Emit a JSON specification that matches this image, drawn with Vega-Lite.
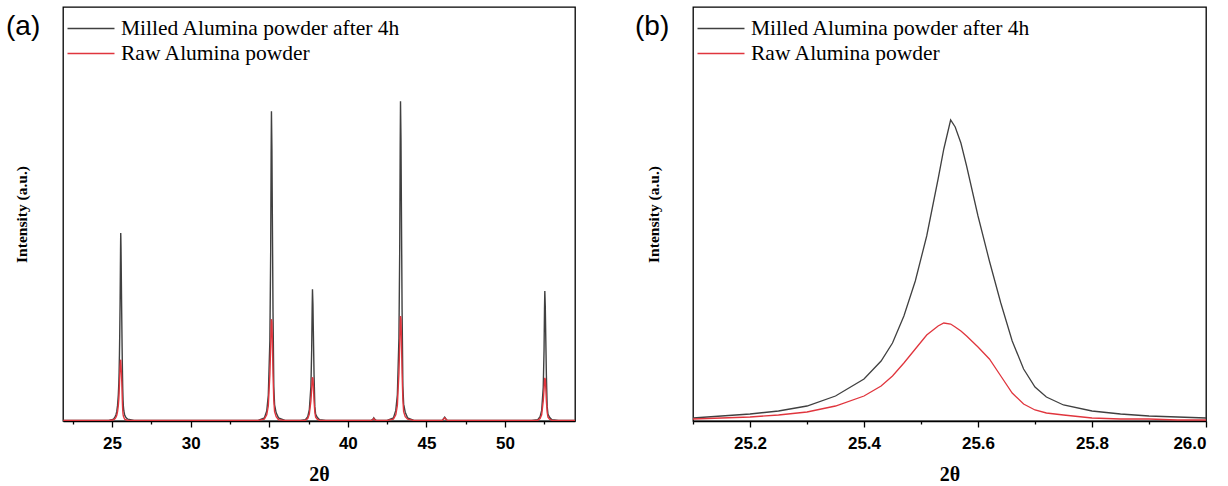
{
  "$schema": "https://vega.github.io/schema/vega-lite/v6.json",
  "padding": {"left": 5, "top": 6, "right": 5, "bottom": 0},
  "background": "white",
  "config": {
    "view": {"stroke": "black", "strokeWidth": 1.3},
    "axis": {
      "labelFont": "Liberation Sans", "labelFontWeight": "bold", "labelFontSize": 17, "labelColor": "black",
      "titleFont": "Liberation Serif", "titleFontWeight": "bold", "titleColor": "black",
      "domainColor": "black", "tickColor": "black", "grid": false
    },
    "legend": {
      "orient": "top-left", "title": null, "symbolType": "M-2,0H2", "symbolSize": 552, "symbolStrokeWidth": 1.5,
      "labelFont": "Liberation Serif", "labelFontSize": 21.5, "labelColor": "black", "labelLimit": 500,
      "offset": 8.5, "padding": 0, "rowPadding": 2, "symbolOffset": 6.5, "labelOffset": 17.5
    }
  },
  "data": {"values": [
    {"two_theta": 21.9, "milled": 1, "raw": 1},
    {"two_theta": 24.8, "milled": 1, "raw": 1},
    {"two_theta": 25.10, "milled": 3, "raw": 2},
    {"two_theta": 25.15, "milled": 5, "raw": 3},
    {"two_theta": 25.20, "milled": 7, "raw": 4},
    {"two_theta": 25.25, "milled": 10, "raw": 6},
    {"two_theta": 25.30, "milled": 15, "raw": 9},
    {"two_theta": 25.35, "milled": 25, "raw": 15},
    {"two_theta": 25.40, "milled": 42, "raw": 25},
    {"two_theta": 25.43, "milled": 60, "raw": 35},
    {"two_theta": 25.45, "milled": 78, "raw": 45},
    {"two_theta": 25.47, "milled": 105, "raw": 58},
    {"two_theta": 25.49, "milled": 140, "raw": 72},
    {"two_theta": 25.51, "milled": 185, "raw": 86},
    {"two_theta": 25.53, "milled": 242, "raw": 95},
    {"two_theta": 25.54, "milled": 272, "raw": 98},
    {"two_theta": 25.552, "milled": 301, "raw": 97},
    {"two_theta": 25.56, "milled": 294, "raw": 94},
    {"two_theta": 25.57, "milled": 278, "raw": 90},
    {"two_theta": 25.58, "milled": 255, "raw": 85},
    {"two_theta": 25.60, "milled": 205, "raw": 74},
    {"two_theta": 25.62, "milled": 160, "raw": 62},
    {"two_theta": 25.64, "milled": 118, "raw": 45},
    {"two_theta": 25.66, "milled": 80, "raw": 28},
    {"two_theta": 25.68, "milled": 52, "raw": 17},
    {"two_theta": 25.70, "milled": 34, "raw": 11},
    {"two_theta": 25.72, "milled": 24, "raw": 8},
    {"two_theta": 25.75, "milled": 16, "raw": 6},
    {"two_theta": 25.80, "milled": 10, "raw": 3},
    {"two_theta": 25.85, "milled": 7, "raw": 2},
    {"two_theta": 25.90, "milled": 5, "raw": 2},
    {"two_theta": 25.95, "milled": 4, "raw": 1},
    {"two_theta": 26.00, "milled": 3, "raw": 1},
    {"two_theta": 26.4, "milled": 1, "raw": 1},
    {"two_theta": 34.3, "milled": 1, "raw": 1},
    {"two_theta": 34.69, "milled": 5, "raw": 3},
    {"two_theta": 34.84, "milled": 16, "raw": 10},
    {"two_theta": 34.94, "milled": 41, "raw": 24},
    {"two_theta": 35.04, "milled": 129, "raw": 75},
    {"two_theta": 35.09, "milled": 268, "raw": 119},
    {"two_theta": 35.12, "milled": 427, "raw": 152},
    {"two_theta": 35.14, "milled": 496, "raw": 163},
    {"two_theta": 35.17, "milled": 436, "raw": 158},
    {"two_theta": 35.19, "milled": 357, "raw": 139},
    {"two_theta": 35.24, "milled": 174, "raw": 75},
    {"two_theta": 35.29, "milled": 55, "raw": 33},
    {"two_theta": 35.34, "milled": 26, "raw": 15},
    {"two_theta": 35.44, "milled": 13, "raw": 7},
    {"two_theta": 35.59, "milled": 5, "raw": 2},
    {"two_theta": 36.0, "milled": 1, "raw": 1},
    {"two_theta": 37.0, "milled": 1, "raw": 1},
    {"two_theta": 37.30, "milled": 2, "raw": 1},
    {"two_theta": 37.45, "milled": 7, "raw": 4},
    {"two_theta": 37.55, "milled": 18, "raw": 11},
    {"two_theta": 37.65, "milled": 55, "raw": 32},
    {"two_theta": 37.70, "milled": 114, "raw": 51},
    {"two_theta": 37.73, "milled": 181, "raw": 65},
    {"two_theta": 37.75, "milled": 211, "raw": 70},
    {"two_theta": 37.78, "milled": 186, "raw": 68},
    {"two_theta": 37.80, "milled": 152, "raw": 60},
    {"two_theta": 37.85, "milled": 74, "raw": 32},
    {"two_theta": 37.90, "milled": 23, "raw": 14},
    {"two_theta": 37.95, "milled": 11, "raw": 6},
    {"two_theta": 38.05, "milled": 6, "raw": 3},
    {"two_theta": 38.20, "milled": 2, "raw": 1},
    {"two_theta": 38.6, "milled": 1, "raw": 1},
    {"two_theta": 41.3, "milled": 1, "raw": 1},
    {"two_theta": 41.5, "milled": 1, "raw": 1},
    {"two_theta": 41.6, "milled": 3, "raw": 2},
    {"two_theta": 41.65, "milled": 5, "raw": 4},
    {"two_theta": 41.7, "milled": 3, "raw": 2},
    {"two_theta": 41.8, "milled": 1, "raw": 1},
    {"two_theta": 42.5, "milled": 1, "raw": 1},
    {"two_theta": 42.90, "milled": 5, "raw": 3},
    {"two_theta": 43.05, "milled": 17, "raw": 10},
    {"two_theta": 43.15, "milled": 42, "raw": 25},
    {"two_theta": 43.25, "milled": 133, "raw": 77},
    {"two_theta": 43.30, "milled": 276, "raw": 123},
    {"two_theta": 43.33, "milled": 440, "raw": 156},
    {"two_theta": 43.35, "milled": 512, "raw": 168},
    {"two_theta": 43.38, "milled": 451, "raw": 163},
    {"two_theta": 43.40, "milled": 369, "raw": 143},
    {"two_theta": 43.45, "milled": 179, "raw": 77},
    {"two_theta": 43.50, "milled": 56, "raw": 34},
    {"two_theta": 43.55, "milled": 27, "raw": 15},
    {"two_theta": 43.65, "milled": 14, "raw": 7},
    {"two_theta": 43.80, "milled": 5, "raw": 3},
    {"two_theta": 44.2, "milled": 1, "raw": 1},
    {"two_theta": 45.8, "milled": 1, "raw": 1},
    {"two_theta": 46.0, "milled": 1, "raw": 1},
    {"two_theta": 46.1, "milled": 4, "raw": 3},
    {"two_theta": 46.16, "milled": 6, "raw": 5},
    {"two_theta": 46.22, "milled": 4, "raw": 3},
    {"two_theta": 46.32, "milled": 1, "raw": 1},
    {"two_theta": 51.7, "milled": 1, "raw": 1},
    {"two_theta": 52.08, "milled": 2, "raw": 1},
    {"two_theta": 52.23, "milled": 7, "raw": 4},
    {"two_theta": 52.33, "milled": 17, "raw": 10},
    {"two_theta": 52.43, "milled": 54, "raw": 32},
    {"two_theta": 52.48, "milled": 112, "raw": 50},
    {"two_theta": 52.51, "milled": 179, "raw": 64},
    {"two_theta": 52.53, "milled": 208, "raw": 69},
    {"two_theta": 52.56, "milled": 183, "raw": 67},
    {"two_theta": 52.58, "milled": 150, "raw": 59},
    {"two_theta": 52.63, "milled": 73, "raw": 32},
    {"two_theta": 52.68, "milled": 23, "raw": 14},
    {"two_theta": 52.73, "milled": 11, "raw": 6},
    {"two_theta": 52.83, "milled": 6, "raw": 3},
    {"two_theta": 52.98, "milled": 2, "raw": 1},
    {"two_theta": 53.4, "milled": 1, "raw": 1},
    {"two_theta": 54.45, "milled": 1, "raw": 1}
  ]},
  "transform": [{"fold": ["milled", "raw"], "as": ["sample", "intensity"]}],
  "spacing": 58,
  "resolve": {"legend": {"color": "independent"}, "scale": {"x": "independent", "y": "independent"}},
  "hconcat": [
    {
      "width": 512, "height": 414,
      "title": {"text": "(a)", "anchor": "start", "frame": "group", "offset": -34, "dx": -57, "fontSize": 28, "font": "Liberation Sans", "fontWeight": "normal", "color": "black"},
      "mark": {"type": "line", "strokeWidth": 1.4, "clip": true},
      "encoding": {
        "x": {"field": "two_theta", "type": "quantitative", "title": "2θ",
          "scale": {"domain": [21.88, 54.45], "nice": false, "zero": false},
          "axis": {"values": [22.5, 25, 27.5, 30, 32.5, 35, 37.5, 40, 42.5, 45, 47.5, 50, 52.5],
            "labelExpr": "datum.value % 5 === 0 ? datum.label : ''",
            "tickSize": {"condition": {"test": "datum.value % 5 === 0", "value": 6}, "value": 3},
            "labelPadding": 8, "titleFontSize": 20, "titlePadding": 13, "domainWidth": 1.3, "tickWidth": 1.3}},
        "y": {"field": "intensity", "type": "quantitative", "title": "Intensity (a.u.)",
          "scale": {"domain": [0, 663], "nice": false},
          "axis": {"labels": false, "ticks": false, "domain": false, "titleFontSize": 15.5, "titlePadding": 34}},
        "color": {"field": "sample", "type": "nominal",
          "scale": {"domain": ["milled", "raw"], "range": ["#404040", "#e0353d"]},
          "legend": {"labelExpr": "datum.value === 'milled' ? 'Milled Alumina powder after 4h' : 'Raw Alumina powder'"}}
      }
    },
    {
      "width": 513, "height": 414,
      "title": {"text": "(b)", "anchor": "start", "frame": "group", "offset": -34, "dx": -58, "fontSize": 28, "font": "Liberation Sans", "fontWeight": "normal", "color": "black"},
      "transform": [{"filter": "datum.two_theta >= 25.1 && datum.two_theta <= 26.0"}],
      "mark": {"type": "line", "strokeWidth": 1.3, "clip": true},
      "encoding": {
        "x": {"field": "two_theta", "type": "quantitative", "title": "2θ",
          "scale": {"domain": [25.1, 26.0], "nice": false, "zero": false},
          "axis": {"values": [25.1, 25.2, 25.3, 25.4, 25.5, 25.6, 25.7, 25.8, 25.9, 26.0],
            "labelExpr": "round(datum.value * 10) % 2 === 0 ? format(datum.value, '.1f') : ''",
            "tickSize": {"condition": {"test": "round(datum.value * 10) % 2 === 0", "value": 6}, "value": 3},
            "labelPadding": 8, "titleFontSize": 20, "titlePadding": 13, "domainWidth": 1.3, "tickWidth": 1.3}},
        "y": {"field": "intensity", "type": "quantitative", "title": "Intensity (a.u.)",
          "scale": {"domain": [0, 414], "nice": false},
          "axis": {"labels": false, "ticks": false, "domain": false, "titleFontSize": 15.5, "titlePadding": 32}},
        "color": {"field": "sample", "type": "nominal",
          "scale": {"domain": ["milled", "raw"], "range": ["#404040", "#e0353d"]},
          "legend": {"labelExpr": "datum.value === 'milled' ? 'Milled Alumina powder after 4h' : 'Raw Alumina powder'"}}
      }
    }
  ]
}
